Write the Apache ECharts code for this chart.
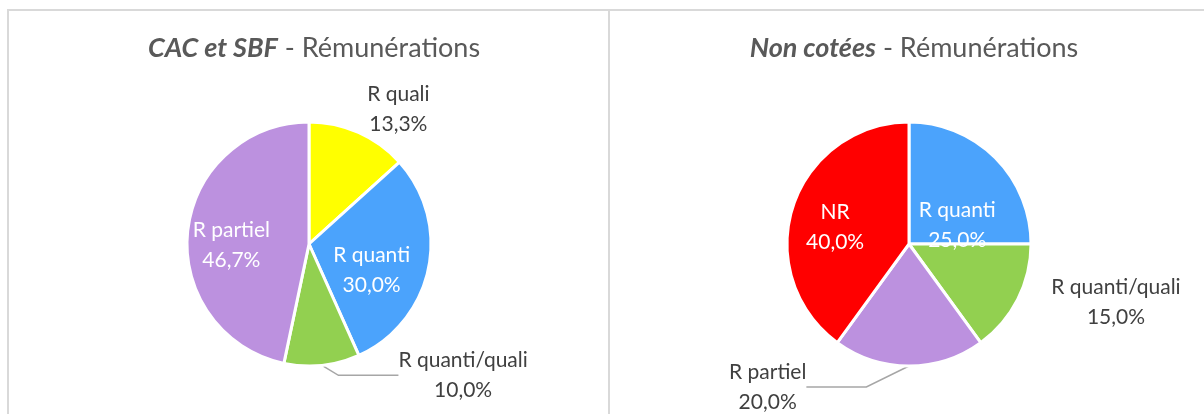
<!DOCTYPE html>
<html>
<head>
<meta charset="utf-8">
<script src="https://cdn.jsdelivr.net/npm/echarts@6/dist/echarts.min.js"></script>
<style>
  html, body { margin: 0; padding: 0; background: #fff; }
  #chart { width: 1204px; height: 414px; }
</style>
</head>
<body>
<div id="chart"></div>
<script>
// données
const cotCats = ['R quali', 'R quanti', 'R quanti/quali', 'R partiel'];
const cotVals = [13.3, 30.0, 10.0, 46.7];
const nonCotCats = ['R quanti', 'R quanti/quali', 'R partiel', 'NR'];
const nonCotVals = [25.0, 15.0, 20.0, 40.0];

const colors = {
  'R quali': '#FFFF00',
  'R quanti': '#4BA3FC',
  'R quanti/quali': '#92D050',
  'R partiel': '#BC91DF',
  'NR': '#FF0000'
};
// étiquettes à l'intérieur des parts
const inside = {
  0: ['R quanti', 'R partiel'],
  1: ['R quanti', 'NR']
};
// étiquettes extérieures sans trait de rappel
const noLine = {
  0: ['R quali'],
  1: ['R quanti/quali']
};
// décalage des étiquettes (par série, par part)
const labelShift = [
  [[-58, -20], [0, 13], [11, 6], [-14, 8]],
  [[3, 26], [-35, 1], [-245, 17], [-13, 3]]
];

const FONT = 'Lato';

function fmt(v) {
  return v.toFixed(1).replace('.', ',') + '%';
}

function buildData(cats, vals, idx) {
  return cats.map((c, i) => {
    const isIn = inside[idx].indexOf(c) >= 0;
    return {
      name: c,
      value: vals[i],
      itemStyle: { color: colors[c] },
      label: {
        position: isIn ? 'inside' : 'outside',
        color: isIn ? '#ffffff' : '#404040'
      },
      labelLine: { show: !isIn && noLine[idx].indexOf(c) < 0 }
    };
  });
}

function pieSeries(cats, vals, idx, cx) {
  return {
    type: 'pie',
    center: [cx, 244],
    radius: 122,
    startAngle: 90,
    clockwise: true,
    animation: false,
    avoidLabelOverlap: false,
    itemStyle: { borderColor: '#ffffff', borderWidth: 3 },
    label: {
      fontFamily: FONT,
      fontSize: 21,
      lineHeight: 30,
      formatter: p => p.name + '\n' + fmt(p.value)
    },
    labelLine: {
      length: 4,
      length2: 60,
      lineStyle: { color: '#A6A6A6', width: 1.5 }
    },
    labelLayout: function (p) {
      const d = labelShift[p.seriesIndex][p.dataIndex];
      const r = p.labelRect;
      return {
        x: r.x + r.width / 2 + d[0],
        y: r.y + r.height / 2 + d[1],
        align: 'center',
        verticalAlign: 'middle'
      };
    },
    data: buildData(cats, vals, idx)
  };
}

const chart = echarts.init(document.getElementById('chart'));

const titleStyle = {
  fontFamily: FONT,
  fontSize: 27,
  fontWeight: 'normal',
  color: '#595959',
  rich: {
    b: { fontFamily: FONT, fontSize: 27, fontWeight: 'bold', fontStyle: 'italic', color: '#595959' }
  }
};

chart.setOption({
  backgroundColor: '#ffffff',
  title: [
    { text: '{b|CAC et SBF} - Rémunérations', left: 309, top: 30, textAlign: 'center', textStyle: titleStyle },
    { text: '{b|Non cotées} - Rémunérations', left: 909, top: 30, textAlign: 'center', textStyle: titleStyle }
  ],
  graphic: [
    { type: 'rect', shape: { x: 8, y: 10, width: 601, height: 420 }, style: { fill: 'none', stroke: '#D9D9D9', lineWidth: 2 }, silent: true },
    { type: 'rect', shape: { x: 609, y: 10, width: 620, height: 420 }, style: { fill: 'none', stroke: '#D9D9D9', lineWidth: 2 }, silent: true }
  ],
  series: [
    pieSeries(cotCats, cotVals, 0, 309),
    pieSeries(nonCotCats, nonCotVals, 1, 909)
  ]
});
</script>
</body>
</html>
